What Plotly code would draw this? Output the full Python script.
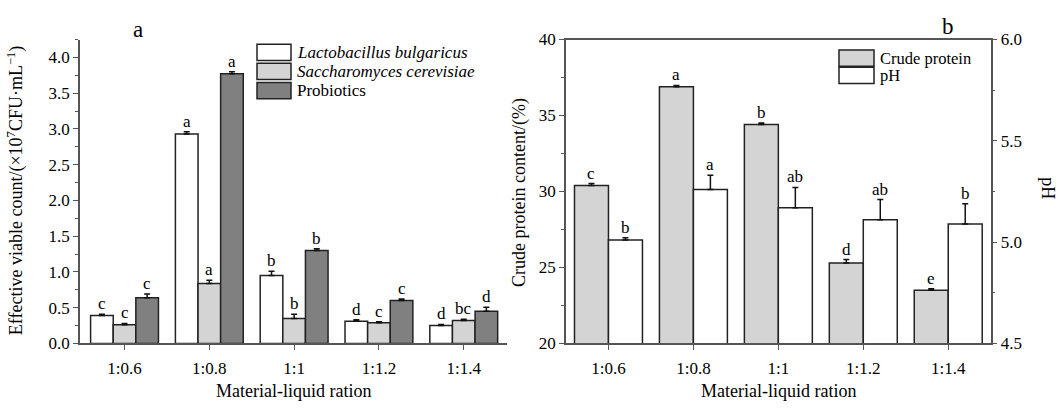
import plotly.graph_objects as go

# ---------------- data ----------------
categories = ["1:0.6", "1:0.8", "1:1", "1:1.2", "1:1.4"]

lb_vals = [0.39, 2.93, 0.95, 0.31, 0.25]
lb_err = [0.02, 0.03, 0.06, 0.02, 0.015]
lb_sig = ["c", "a", "b", "d", "d"]

sc_vals = [0.26, 0.84, 0.35, 0.29, 0.32]
sc_err = [0.02, 0.045, 0.06, 0.015, 0.018]
sc_sig = ["c", "a", "b", "c", "bc"]

pb_vals = [0.64, 3.77, 1.30, 0.60, 0.45]
pb_err = [0.05, 0.03, 0.025, 0.02, 0.055]
pb_sig = ["c", "a", "b", "c", "d"]

cp_vals = [30.4, 36.9, 34.4, 25.3, 23.5]
cp_err = [0.12, 0.08, 0.1, 0.22, 0.1]
cp_sig = ["c", "a", "b", "d", "e"]

ph_vals = [5.01, 5.26, 5.17, 5.11, 5.09]
ph_err = [0.012, 0.07, 0.10, 0.10, 0.10]
ph_sig = ["b", "a", "ab", "ab", "b"]

left_names = ["<i>Lactobacillus bulgaricus</i>", "<i>Saccharomyces cerevisiae</i>", "Probiotics"]
right_names = ["Crude protein", "pH"]

# ---------------- style ----------------
W, H = 1060, 410
FONT = "Liberation Serif"
AX = "#555555"
EDGE = "#222222"
WHITE, LGRAY, DGRAY = "#ffffff", "#d4d4d4", "#808080"


def px(x):
    return x / W


def py(y):
    return 1 - y / H


fig = go.Figure()
annotations = []
shapes = []

# ---------------- left panel ----------------
wl = 0.8 / 3
left_series = [
    (lb_vals, lb_err, lb_sig, WHITE),
    (sc_vals, sc_err, sc_sig, LGRAY),
    (pb_vals, pb_err, pb_sig, DGRAY),
]
for k, (vals, errs, sigs, col) in enumerate(left_series):
    off = -0.4 + k * wl
    fig.add_trace(go.Bar(
        x=categories, y=vals, width=wl, offset=off,
        marker=dict(color=col, line=dict(color=EDGE, width=1.5)),
        error_y=dict(type="data", array=errs, arrayminus=[0] * len(errs), symmetric=False,
                     color="#111111", thickness=1.5, width=3),
        name=left_names[k], showlegend=False, xaxis="x", yaxis="y",
    ))
    for i, (v, e, s) in enumerate(zip(vals, errs, sigs)):
        annotations.append(dict(
            x=i + off + wl / 2, y=v + e, xref="x", yref="y", text=s, showarrow=False,
            yanchor="bottom", xanchor="center", borderpad=0,
            font=dict(family=FONT, size=17, color="black"),
        ))

# ---------------- right panel ----------------
wr = 0.4
fig.add_trace(go.Bar(
    x=categories, y=cp_vals, width=wr, offset=-0.4,
    marker=dict(color=LGRAY, line=dict(color=EDGE, width=1.5)),
    error_y=dict(type="data", array=cp_err, arrayminus=[0] * 5, symmetric=False,
                 color="#111111", thickness=1.5, width=3),
    name=right_names[0], showlegend=False, xaxis="x2", yaxis="y2",
))
for i, (v, e, s) in enumerate(zip(cp_vals, cp_err, cp_sig)):
    annotations.append(dict(
        x=i - 0.4 + wr / 2, y=v + e, xref="x2", yref="y2", text=s, showarrow=False,
        yanchor="bottom", xanchor="center", borderpad=0,
        font=dict(family=FONT, size=17, color="black"),
    ))

fig.add_trace(go.Bar(
    x=categories, y=ph_vals, width=wr, offset=0.0,
    marker=dict(color=WHITE, line=dict(color=EDGE, width=1.5)),
    error_y=dict(type="data", array=ph_err, arrayminus=[0] * 5, symmetric=False,
                 color="#111111", thickness=1.5, width=3),
    name=right_names[1], showlegend=False, xaxis="x2", yaxis="y3",
))
for i, (v, e, s) in enumerate(zip(ph_vals, ph_err, ph_sig)):
    annotations.append(dict(
        x=i + wr / 2, y=v + e, xref="x2", yref="y3", text=s, showarrow=False,
        yanchor="bottom", xanchor="center", borderpad=0,
        font=dict(family=FONT, size=17, color="black"),
    ))


# ---------------- custom legends ----------------
def legend_item(x0, y0, w, h, color, label, size=17):
    shapes.append(dict(type="rect", xref="paper", yref="paper",
                       x0=px(x0), x1=px(x0 + w), y0=py(y0 + h), y1=py(y0),
                       fillcolor=color, line=dict(color=EDGE, width=1.5)))
    annotations.append(dict(x=px(x0 + w + 5), y=py(y0 + h / 2), xref="paper", yref="paper",
                            text=label, showarrow=False, xanchor="left", yanchor="middle",
                            borderpad=0,
                            font=dict(family=FONT, size=size, color="black")))


for k, col in enumerate([WHITE, LGRAY, DGRAY]):
    legend_item(257, 37 + k * 20, 34, 17, col, left_names[k])
for k, col in enumerate([LGRAY, WHITE]):
    legend_item(839, 43 + k * 18, 35, 17, col, right_names[k], size=16.5)


# ---------------- titles / axis titles ----------------
def paper_text(x, y, text, size, angle=0):
    return dict(x=px(x), y=py(y), xref="paper", yref="paper", text=text, showarrow=False,
                xanchor="center", yanchor="middle", textangle=angle,
                font=dict(family=FONT, size=size, color="black"))


annotations += [
    paper_text(138, 22, "a", 23),
    paper_text(948, 18, "b", 23),
    paper_text(293, 401, "Material-liquid ration", 18),
    paper_text(778, 401, "Material-liquid ration", 18),
    paper_text(16, 191, "Effective viable count/(×10<sup>7</sup>CFU·mL<sup>−1</sup>)", 18, -90),
    paper_text(519, 193, "Crude protein content/(%)", 18, -90),
    paper_text(1048, 188, "pH", 18, 90),
]

tickfont = dict(family=FONT, size=17, color="black")
ydom = [py(350.7), py(32)]

common_x = dict(type="category", showline=True, linecolor=AX, linewidth=1.5,
                ticks="outside", ticklen=5, tickwidth=1.2, tickcolor=AX, ticklabelstandoff=3,
                tickfont=tickfont, showgrid=False, zeroline=False, fixedrange=True)
common_y = dict(showline=True, linecolor=AX, linewidth=1.5, ticks="outside", ticklen=5,
                tickwidth=1.2, tickcolor=AX, tickfont=tickfont, showgrid=False,
                zeroline=False, fixedrange=True)

fig.update_layout(
    width=W, height=H, margin=dict(l=0, r=0, t=0, b=0),
    paper_bgcolor="white", plot_bgcolor="white",
    barmode="overlay", showlegend=False,
    font=dict(family=FONT, color="black"),
    xaxis=dict(domain=[px(80), px(507)], range=[-0.525, 4.51], anchor="y", **common_x),
    yaxis=dict(domain=ydom, range=[0, 4.25], anchor="x", tickvals=[0, 0.5, 1, 1.5, 2, 2.5, 3, 3.5, 4],
               tickformat=".1f",
               minor=dict(ticks="outside", ticklen=3, tickcolor=AX, dtick=0.25, tick0=0, showgrid=False),
               **common_y),
    xaxis2=dict(domain=[px(566), px(990.7)], range=[-0.5, 4.5], anchor="y2", mirror=True, **common_x),
    yaxis2=dict(domain=ydom, range=[20, 40], anchor="x2", dtick=5, tick0=20,
                minor=dict(ticks="outside", ticklen=3, tickcolor=AX, dtick=2.5, tick0=20, showgrid=False),
                **common_y),
    yaxis3=dict(range=[4.5, 6.0], overlaying="y2", side="right", anchor="x2", dtick=0.5, tick0=4.5,
                tickformat=".1f",
                minor=dict(ticks="outside", ticklen=3, tickcolor=AX, dtick=0.25, tick0=4.5, showgrid=False),
                **common_y),
    annotations=annotations,
    shapes=shapes,
)

fig.write_html("out.html")
